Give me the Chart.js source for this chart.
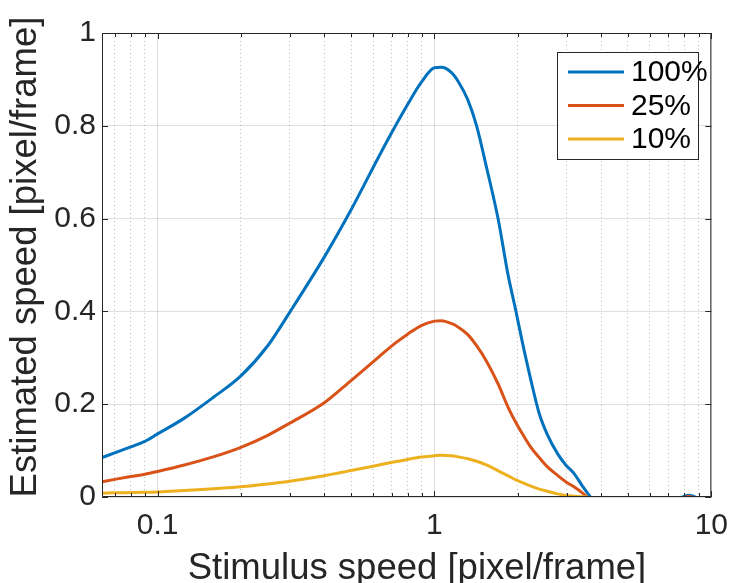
<!DOCTYPE html>
<html>
<head>
<meta charset="utf-8">
<script src="https://cdn.jsdelivr.net/npm/chart.js@4.4.1/dist/chart.umd.min.js"></script>
<style>
  html, body { margin: 0; padding: 0; background: #fff; }
</style>
</head>
<body>
<canvas id="speedChart" width="739" height="583"></canvas>
<script>
// stimulus speeds (pixel/frame) where the curves were read
const speeds = [0.063, 0.07, 0.08, 0.09, 0.1, 0.125, 0.16, 0.2, 0.25, 0.3, 0.4, 0.5, 0.63, 0.72, 0.8, 0.9,
  1.0, 1.06, 1.15, 1.22, 1.32, 1.42, 1.54, 1.7, 1.84, 1.97, 2.07, 2.23, 2.39, 2.56, 2.78, 2.98, 3.19, 3.42, 3.66,
  4.0, 5.0, 6.3, 7.6, 8.0, 8.3, 8.6, 9.0, 10];

// estimated speed for each contrast level
const est100 = [0.085, 0.095, 0.108, 0.12, 0.136, 0.17, 0.216, 0.261, 0.326, 0.398, 0.517, 0.619, 0.734, 0.798, 0.846, 0.895,
  0.925, 0.926, 0.915, 0.895, 0.856, 0.80, 0.712, 0.598, 0.482, 0.40, 0.338, 0.252, 0.18, 0.134, 0.094, 0.069, 0.051, 0.024, 0.0,
  -0.03, -0.04, -0.03, -0.004, 0.002, 0.004, 0.002, -0.004, -0.01];
const est25 = [0.033, 0.038, 0.044, 0.049, 0.055, 0.069, 0.087, 0.107, 0.133, 0.159, 0.203, 0.251, 0.302, 0.331, 0.351, 0.37,
  0.379, 0.38, 0.374, 0.366, 0.35, 0.326, 0.293, 0.243, 0.195, 0.16, 0.138, 0.107, 0.085, 0.065, 0.047, 0.033, 0.022, 0.009, -0.006,
  -0.02, -0.025, -0.02, -0.003, -0.001, 0.001, -0.001, -0.003, -0.005];
const est10 = [0.008, 0.009, 0.0095, 0.01, 0.011, 0.014, 0.018, 0.022, 0.028, 0.034, 0.046, 0.057, 0.069, 0.076, 0.081, 0.086,
  0.089, 0.09, 0.089, 0.0865, 0.0825, 0.077, 0.069, 0.0565, 0.046, 0.037, 0.0316, 0.0235, 0.017, 0.0125, 0.0067, 0.0035, 0.0018, 0.0006, -0.002,
  -0.01, -0.012, -0.01, -0.003, -0.002, -0.001, -0.002, -0.003, -0.004];

const seriesLabels = ['100%', '25%', '10%'];
const seriesColors = ['#0072BD', '#D95319', '#EDB120'];

// axis ticks
const xGridTicks = [0.07, 0.08, 0.09, 0.1, 0.2, 0.3, 0.4, 0.5, 0.6, 0.7, 0.8, 0.9, 1, 2, 3, 4, 5, 6, 7, 8, 9, 10];
const xTickLabels = [0.1, 1, 10];
const yTicks = [0, 0.2, 0.4, 0.6, 0.8, 1];

const xTitle = 'Stimulus speed [pixel/frame]';
const yTitle = 'Estimated speed [pixel/frame]';

const AXIS_COLOR = '#262626';
const FONT = '"Liberation Sans", Arial, Helvetica, sans-serif';

const isMajorX = v => xTickLabels.includes(v);

// matlab style box with inward ticks, plus the two axis titles
const boxPlugin = {
  id: 'boxPlugin',
  afterDatasetsDraw(chart) {
    const { ctx, chartArea: a, scales } = chart;
    ctx.save();
    ctx.strokeStyle = AXIS_COLOR;
    ctx.lineWidth = 1;
    ctx.beginPath();
    ctx.rect(a.left + 0.5, a.top + 0.5, a.right - a.left - 1, a.bottom - a.top - 1);
    xGridTicks.forEach(v => {
      const px = Math.round(scales.x.getPixelForValue(v)) + 0.5;
      const len = isMajorX(v) ? 6 : 4;
      ctx.moveTo(px, a.bottom);
      ctx.lineTo(px, a.bottom - len);
      ctx.moveTo(px, a.top);
      ctx.lineTo(px, a.top + len);
    });
    yTicks.forEach(v => {
      const py = Math.round(scales.y.getPixelForValue(v)) + 0.5;
      ctx.moveTo(a.left, py);
      ctx.lineTo(a.left + 6, py);
      ctx.moveTo(a.right, py);
      ctx.lineTo(a.right - 6, py);
    });
    ctx.stroke();

    // titles
    ctx.fillStyle = AXIS_COLOR;
    ctx.font = '36.5px ' + FONT;
    ctx.textAlign = 'center';
    ctx.textBaseline = 'alphabetic';
    ctx.fillText(xTitle, 417, 579);
    ctx.translate(36, 257);
    ctx.rotate(-Math.PI / 2);
    ctx.fillText(yTitle, 0, 0);
    ctx.restore();
  }
};

// legend box in the upper right corner
const legendPlugin = {
  id: 'legendBox',
  afterDraw(chart) {
    const { ctx } = chart;
    const bx = 557, by = 52, bw = 141, bh = 107;
    ctx.save();
    ctx.fillStyle = '#fff';
    ctx.fillRect(bx, by, bw, bh);
    ctx.strokeStyle = AXIS_COLOR;
    ctx.lineWidth = 1;
    ctx.strokeRect(bx + 0.5, by + 0.5, bw, bh);
    ctx.font = '30px ' + FONT;
    ctx.textBaseline = 'middle';
    ctx.textAlign = 'left';
    chart.data.datasets.forEach((ds, i) => {
      const y = 72 + i * 33.5;
      ctx.strokeStyle = ds.borderColor;
      ctx.lineWidth = 3;
      ctx.beginPath();
      ctx.moveTo(568, y);
      ctx.lineTo(624, y);
      ctx.stroke();
      ctx.fillStyle = '#000';
      ctx.fillText(ds.label, 631, y + 1);
    });
    ctx.restore();
  }
};

const allSeries = [est100, est25, est10];

new Chart(document.getElementById('speedChart'), {
  type: 'line',
  data: {
    datasets: allSeries.map((vals, i) => ({
      label: seriesLabels[i],
      data: speeds.map((s, j) => ({ x: s, y: vals[j] })),
      borderColor: seriesColors[i],
      borderWidth: 3,
      pointRadius: 0,
      cubicInterpolationMode: 'monotone',
      fill: false,
      clip: 0,
      order: 3 - i
    }))
  },
  options: {
    responsive: false,
    animation: false,
    layout: { padding: { top: 33, right: 22, left: 0, bottom: 0 } },
    plugins: { legend: { display: false }, tooltip: { enabled: false } },
    scales: {
      x: {
        type: 'logarithmic',
        min: 0.063,
        max: 10,
        afterBuildTicks: s => { s.ticks = xGridTicks.map(v => ({ value: v })); },
        afterFit: s => { s.height = 86; },
        ticks: {
          autoSkip: false,
          maxRotation: 0,
          padding: 11,
          color: AXIS_COLOR,
          font: { size: 30, family: FONT },
          callback: v => (isMajorX(v) ? String(v) : '')
        },
        grid: {
          drawTicks: false,
          lineWidth: 1,
          color: c => (c.tick && isMajorX(c.tick.value) ? 'rgba(38,38,38,0.15)' : 'rgba(38,38,38,0.3)')
        },
        border: {
          display: false,
          dash: c => (c.tick && !isMajorX(c.tick.value) ? [1, 3] : [])
        },
        title: { display: false }
      },
      y: {
        min: 0,
        max: 1,
        afterBuildTicks: s => { s.ticks = yTicks.map(v => ({ value: v })); },
        afterFit: s => { s.width = 102; },
        ticks: {
          padding: 6,
          color: AXIS_COLOR,
          font: { size: 30, family: FONT },
          callback: v => String(v)
        },
        grid: { drawTicks: false, lineWidth: 1, color: 'rgba(38,38,38,0.15)' },
        border: { display: false },
        title: { display: false }
      }
    }
  },
  plugins: [boxPlugin, legendPlugin]
});
</script>
</body>
</html>
